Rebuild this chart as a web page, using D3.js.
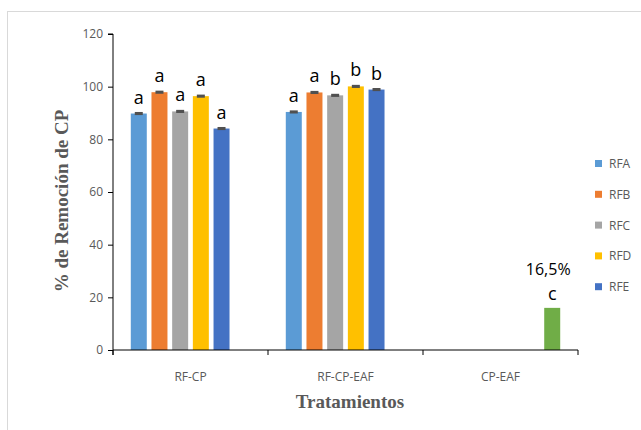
<!DOCTYPE html>
<meta charset="utf-8">
<style>
body { margin: 0; background: #fff; }
.tick text { font-family: "Open Sans", sans-serif; font-size: 12px; fill: #595959; }
.axis-title { font-family: "Liberation Serif", serif; font-weight: bold; font-size: 19px; fill: #595959; }
.lbl { font-family: "Open Sans", sans-serif; fill: #000; }
</style>
<body>
<script src="https://d3js.org/d3.v7.min.js"></script>
<script>

// data
var categories = ["RF-CP", "RF-CP-EAF", "CP-EAF"];
var seriesNames = ["RFA", "RFB", "RFC", "RFD", "RFE", "EAF"];
var seriesColors = ["#5B9BD5", "#ED7D31", "#A5A5A5", "#FFC000", "#4472C4", "#70AD47"];
var legendNames = ["RFA", "RFB", "RFC", "RFD", "RFE"];

var RFA = [89.8, 90.4, null];
var RFB = [97.9, 97.8, null];
var RFC = [90.6, 96.7, null];
var RFD = [96.4, 100.1, null];
var RFE = [84.1, 98.9, null];
var EAF = [null, null, 16];
var errors = 0.4;

var lettersRFA = ["a", "a", ""];
var lettersRFB = ["a", "a", ""];
var lettersRFC = ["a", "b", ""];
var lettersRFD = ["a", "b", ""];
var lettersRFE = ["a", "b", ""];
var lettersEAF = ["", "", "c"];
var extraLabel = "16,5%";

var yTicks = [0, 20, 40, 60, 80, 100, 120];

var values = [RFA, RFB, RFC, RFD, RFE, EAF];
var letters = [lettersRFA, lettersRFB, lettersRFC, lettersRFD, lettersRFE, lettersEAF];

var W = 641, H = 430;
var margin = {left: 113, right: 63, top: 34, bottom: 80};

var svg = d3.select("body").append("svg")
  .attr("width", W)
  .attr("height", H);

// chart border
svg.append("rect")
  .attr("x", 7.5).attr("y", 11.5)
  .attr("width", W + 20).attr("height", H + 20)
  .attr("fill", "none").attr("stroke", "#d9d9d9");

var x = d3.scaleBand().domain(categories)
  .range([margin.left, W - margin.right]);
var xs = d3.scaleBand().domain(seriesNames)
  .range([0, x.bandwidth()])
  .paddingInner(0.227).paddingOuter(0.86);
var y = d3.scaleLinear().domain([0, 120]).range([H - margin.bottom, margin.top]);

// bars
seriesNames.forEach(function(s, i) {
  var g = svg.append("g");
  categories.forEach(function(c, j) {
    var v = values[i][j];
    if (v == null) return;
    var bx = x(c) + xs(s);
    g.append("rect")
      .attr("x", bx).attr("y", y(v))
      .attr("width", xs.bandwidth()).attr("height", y(0) - y(v))
      .attr("fill", seriesColors[i]);
    // error bar
    if (i < 5) {
      g.append("rect")
        .attr("x", bx + xs.bandwidth() / 2 - 4)
        .attr("y", y(v + errors) - 0.5)
        .attr("width", 8)
        .attr("height", Math.max(2, y(v - errors) - y(v + errors)) + 1)
        .attr("fill", "#505050");
    }
    // significance letter
    svg.append("text").attr("class", "lbl")
      .attr("x", bx + xs.bandwidth() / 2)
      .attr("y", y(v) - (s === "EAF" ? 8 : 10))
      .attr("text-anchor", "middle")
      .style("font-size", "18px")
      .text(letters[i][j]);
    if (s === "EAF") {
      svg.append("text").attr("class", "lbl")
        .attr("x", bx + xs.bandwidth() / 2 - 4)
        .attr("y", y(v) - 33)
        .attr("text-anchor", "middle")
        .style("font-size", "16px")
        .text(extraLabel);
    }
  });
});

// y axis
var yAxis = svg.append("g")
  .attr("transform", "translate(" + margin.left + ",0)")
  .call(d3.axisLeft(y).tickValues(yTicks).tickSize(5).tickPadding(5));
yAxis.select(".domain").attr("d", "M-5," + y(120) + "H0V" + (y(0) + 5));
yAxis.selectAll("line").attr("stroke", "#000");
yAxis.select(".domain").attr("stroke", "#000");

// x axis with ticks at category boundaries
var xAxis = svg.append("g")
  .attr("transform", "translate(0," + y(0) + ")")
  .call(d3.axisBottom(x).tickSize(0).tickPadding(22));
xAxis.select(".domain").attr("d", "M" + margin.left + ",0H" + (W - margin.right) + "V5").attr("stroke", "#000");
categories.forEach(function(c) {
  xAxis.append("line")
    .attr("x1", x(c)).attr("x2", x(c))
    .attr("y1", 0).attr("y2", 5)
    .attr("stroke", "#000");
});

// axis titles
svg.append("text").attr("class", "axis-title")
  .attr("x", 350).attr("y", 408)
  .attr("text-anchor", "middle")
  .text("Tratamientos");

svg.append("text").attr("class", "axis-title")
  .attr("transform", "translate(68,201) rotate(-90)")
  .attr("text-anchor", "middle")
  .text("% de Remoción de CP");

// legend
var legend = svg.append("g").attr("transform", "translate(595,160)");
legendNames.forEach(function(n, i) {
  var row = legend.append("g").attr("transform", "translate(0," + (i * 30.8) + ")");
  row.append("rect").attr("width", 7).attr("height", 7)
    .attr("fill", seriesColors[seriesNames.indexOf(n)]);
  row.append("text")
    .attr("x", 14).attr("y", 8)
    .style("font-family", "Open Sans, sans-serif")
    .style("font-size", "12px")
    .attr("fill", "#595959")
    .text(n);
});

</script>
</body>
